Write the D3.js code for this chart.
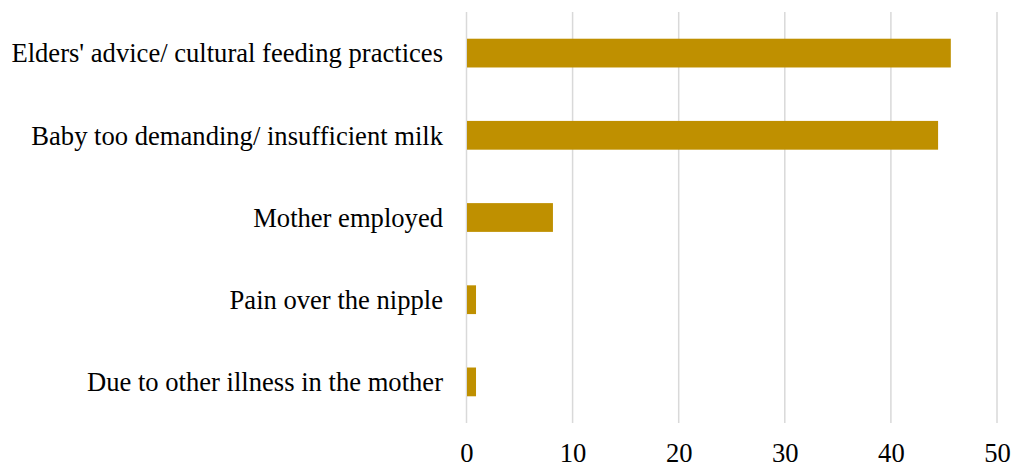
<!DOCTYPE html>
<html>
<head>
<meta charset="utf-8">
<script src="https://cdn.jsdelivr.net/npm/d3@7"></script>
<style>
  html, body { margin: 0; padding: 0; background: #fff; }
  svg { display: block; }
  text { font-family: "Liberation Serif", "Times New Roman", serif; fill: #000; }
</style>
</head>
<body>
<svg id="chart" width="1012" height="465"></svg>
<script>
// reasons, top to bottom
const categories = [
  "Elders' advice/ cultural feeding practices",
  "Baby too demanding/ insufficient milk",
  "Mother employed",
  "Pain over the nipple",
  "Due to other illness in the mother"
];
const values = [45.6, 44.4, 8.1, 0.85, 0.85];
const xTicks = [0, 10, 20, 30, 40, 50];

const width = 1012, height = 465;
const margin = {top: 12, right: 15, bottom: 42, left: 466.5};

const svg = d3.select("#chart");

const x = d3.scaleLinear()
    .domain([0, 50])
    .range([margin.left, width - margin.right]);

const y = d3.scaleBand()
    .domain(categories)
    .range([margin.top, height - margin.bottom])
    .paddingInner(0.65)
    .paddingOuter(0.325);

// gridlines
svg.append("g")
  .selectAll("line")
  .data(xTicks)
  .join("line")
    .attr("x1", d => x(d))
    .attr("x2", d => x(d))
    .attr("y1", margin.top)
    .attr("y2", height - margin.bottom)
    .attr("stroke", "#d9d9d9")
    .attr("stroke-width", 1.5);

// bars
svg.append("g")
  .selectAll("rect")
  .data(values)
  .join("rect")
    .attr("x", x(0) + 0.5)
    .attr("y", (d, i) => y(categories[i]))
    .attr("width", d => x(d) - x(0))
    .attr("height", y.bandwidth())
    .attr("fill", "#bf9000");

// category labels
svg.append("g")
  .selectAll("text")
  .data(categories)
  .join("text")
    .attr("x", 443)
    .attr("y", d => y(d) + y.bandwidth() / 2)
    .attr("dy", "0.35em")
    .attr("text-anchor", "end")
    .attr("font-size", 26.6)
    .text(d => d);

// x axis labels
const xAxis = d3.axisBottom(x)
    .tickValues(xTicks)
    .tickSize(0)
    .tickPadding(0);

const gx = svg.append("g")
    .attr("transform", `translate(0,${height - margin.bottom})`)
    .call(xAxis);
gx.select(".domain").remove();
gx.selectAll("text")
    .attr("y", 30)
    .attr("dy", "0.35em")
    .attr("font-size", 26.6)
    .style("font-family", "\"Liberation Serif\", \"Times New Roman\", serif")
    .attr("fill", "#000");
</script>
</body>
</html>
